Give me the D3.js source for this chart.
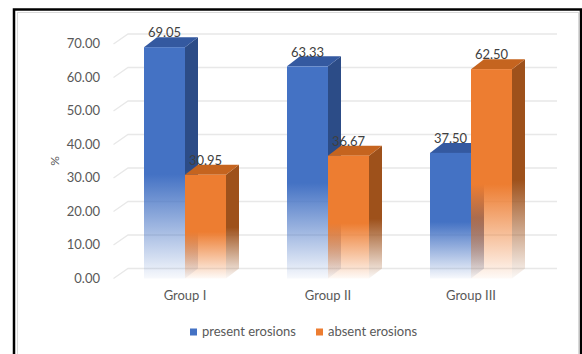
<!DOCTYPE html>
<html>
<head>
<meta charset="utf-8">
<script src="https://cdn.jsdelivr.net/npm/d3@7"></script>
<style>
  html, body { margin: 0; padding: 0; background: #fff; }
  svg { display: block; font-family: Lato, "Liberation Sans", sans-serif; }
</style>
</head>
<body>
<svg id="chart" width="582" height="354"></svg>
<script>
// Erosion share per group (%)
const categories = ["Group I", "Group II", "Group III"];
const seriesNames = ["present erosions", "absent erosions"];
const presentErosions = [69.05, 63.33, 37.50];
const absentErosions = [30.95, 36.67, 62.50];
const yTicks = [0, 10, 20, 30, 40, 50, 60, 70];
const yAxisTitle = "%";

const seriesValues = [presentErosions, absentErosions];
const palette = {
  "present erosions": { front: "#4472C4", top: "#3459A0", side: "#2C4C87" },
  "absent erosions":  { front: "#ED7D31", top: "#C5641F", side: "#9E511B" }
};

const svg = d3.select("#chart");
const defs = svg.append("defs");

// frame
svg.append("rect").attr("x", 17.5).attr("y", 12.5).attr("width", 561).attr("height", 345)
  .attr("fill", "#fff").attr("stroke", "#D9D9D9").attr("stroke-width", 1);
svg.append("path").attr("d", "M14,360 L14,9.5 L581,9.5 L581,360")
  .attr("fill", "none").attr("stroke", "#000").attr("stroke-width", 2.5);

// scales (front plane)
const y = d3.scaleLinear().domain([0, 70]).range([278.5, 44]);
const x0 = d3.scaleBand().domain(categories).range([113.5, 542.5]);
const groupWidth = 82;
const x1 = d3.scaleBand().domain(seriesNames).range([0, groupWidth]);
const groupOffset = (x0.bandwidth() - groupWidth) / 2;

// 3D offsets
const wall = { dx: 14.5, dy: -10 };
const depth = { dx: 13, dy: -10 };

// back wall grid + side wall diagonals
const grid = svg.append("g");
yTicks.forEach(t => {
  const yf = y(t);
  grid.append("path")
    .attr("d", `M${x0.range()[0]},${yf} L${x0.range()[0] + wall.dx},${yf + wall.dy} L${x0.range()[1] + wall.dx},${yf + wall.dy}`)
    .attr("fill", "none").attr("stroke", "#E8E8E8").attr("stroke-width", 1.3);
});

// y tick labels
svg.append("g").selectAll("text").data(yTicks).join("text")
  .attr("x", 100).attr("y", d => y(d) + 1)
  .attr("text-anchor", "end").attr("dominant-baseline", "middle")
  .attr("font-size", 13).attr("fill", "#595959")
  .text(d => d3.format(".2f")(d));

svg.append("text")
  .attr("transform", "translate(56,161) rotate(-90)")
  .attr("text-anchor", "middle").attr("dominant-baseline", "middle")
  .attr("font-size", 12).attr("fill", "#595959")
  .text(yAxisTitle);

// vertical fade: opaque at top, transparent toward the floor
function fadeGradient(id, color) {
  const g = defs.append("linearGradient").attr("id", id)
    .attr("x1", 0).attr("y1", 0).attr("x2", 0).attr("y2", 1);
  g.append("stop").attr("offset", 0).attr("stop-color", color).attr("stop-opacity", 1);
  g.append("stop").attr("offset", 0.55).attr("stop-color", color).attr("stop-opacity", 1);
  g.append("stop").attr("offset", 1).attr("stop-color", color).attr("stop-opacity", 0.04);
}
seriesNames.forEach((s, i) => {
  fadeGradient(`front${i}`, palette[s].front);
  fadeGradient(`side${i}`, palette[s].side);
});

// bars
const bars = svg.append("g");
categories.forEach((c, ci) => {
  seriesNames.forEach((s, si) => {
    const v = seriesValues[si][ci];
    const xl = x0(c) + groupOffset + x1(s);
    const xr = xl + x1.bandwidth();
    const yt = y(v), yb = y(0);
    const g = bars.append("g");
    // side face
    g.append("path")
      .attr("d", `M${xr},${yt} L${xr + depth.dx},${yt + depth.dy} L${xr + depth.dx},${yb + depth.dy} L${xr},${yb} Z`)
      .attr("fill", `url(#side${si})`);
    // top face
    g.append("path")
      .attr("d", `M${xl},${yt} L${xl + depth.dx},${yt + depth.dy} L${xr + depth.dx},${yt + depth.dy} L${xr},${yt} Z`)
      .attr("fill", palette[s].top);
    // front face
    g.append("rect")
      .attr("x", xl).attr("y", yt).attr("width", x1.bandwidth()).attr("height", yb - yt)
      .attr("fill", `url(#front${si})`);
  });
});

// value labels
categories.forEach((c, ci) => {
  seriesNames.forEach((s, si) => {
    const v = seriesValues[si][ci];
    const xc = x0(c) + groupOffset + x1(s) + x1.bandwidth() / 2;
    svg.append("text")
      .attr("x", xc).attr("y", y(v) - 13)
      .attr("text-anchor", "middle").attr("dominant-baseline", "middle")
      .attr("font-size", 13).attr("fill", "#404040")
      .text(d3.format(".2f")(v));
  });
});

// category labels
svg.append("g").selectAll("text").data(categories).join("text")
  .attr("x", d => x0(d) + x0.bandwidth() / 2).attr("y", 297)
  .attr("text-anchor", "middle").attr("dominant-baseline", "middle")
  .attr("font-size", 13).attr("fill", "#595959")
  .text(d => d);

// legend
const legendItems = [{ name: seriesNames[0], x: 190 }, { name: seriesNames[1], x: 316 }];
const legend = svg.append("g");
legendItems.forEach(item => {
  legend.append("rect").attr("x", item.x).attr("y", 328.5).attr("width", 7).attr("height", 7)
    .attr("fill", palette[item.name].front);
  legend.append("text").attr("x", item.x + 12).attr("y", 332.5)
    .attr("dominant-baseline", "middle")
    .attr("font-size", 13).attr("fill", "#595959")
    .text(item.name);
});
</script>
</body>
</html>
